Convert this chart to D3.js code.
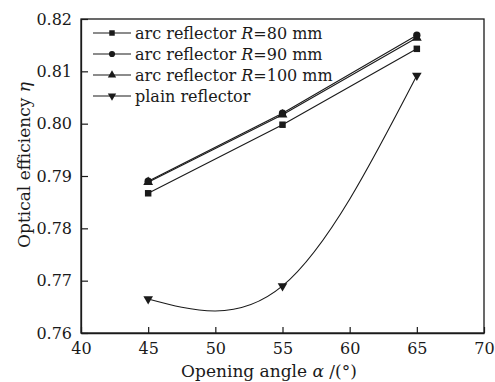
<!DOCTYPE html>
<html><head><meta charset="utf-8">
<script src="https://cdn.jsdelivr.net/npm/d3@7"></script>
<style>body{margin:0;background:#fff}svg{display:block}text{font-family:"DejaVu Serif",serif;fill:#1a1a1a}</style>
</head><body>
<svg id="c" width="495" height="382"></svg>
<script>
const angles = [45, 55, 65];
const r80 = [0.7867, 0.7998, 0.8143];
const r90 = [0.7890, 0.8020, 0.8169];
const r100 = [0.7888, 0.8017, 0.8164];
const plain = [0.7665, 0.7690, 0.8092];
const xTicks = [40, 45, 50, 55, 60, 65, 70];
const yTicks = [0.76, 0.77, 0.78, 0.79, 0.80, 0.81, 0.82];

const svg = d3.select("#c");
const m = {l: 81, r: 11, t: 19, b: 49};
const W = 495, H = 382;
const x = d3.scaleLinear().domain([40, 70]).range([m.l, W - m.r]);
const y = d3.scaleLinear().domain([0.76, 0.82]).range([H - m.b, m.t]);
const col = "#1a1a1a";

// frame
svg.append("rect").attr("x", x(40)).attr("y", y(0.82)).attr("width", x(70) - x(40)).attr("height", y(0.76) - y(0.82))
  .attr("fill", "none").attr("stroke", col).attr("stroke-width", 1.3);

const xa = svg.append("g").attr("transform", `translate(0,${y(0.76)})`)
  .call(d3.axisBottom(x).tickValues(xTicks).tickSizeInner(-6).tickSizeOuter(0).tickPadding(10).tickFormat(d3.format("d")));
const ya = svg.append("g").attr("transform", `translate(${x(40)},0)`)
  .call(d3.axisLeft(y).tickValues(yTicks).tickSizeInner(-7).tickSizeOuter(0).tickPadding(9).tickFormat(d3.format(".2f")));
[xa, ya].forEach(a => {
  a.select(".domain").attr("stroke", col).attr("stroke-width", 1.3);
  a.selectAll(".tick line").attr("stroke", col).attr("stroke-width", 1.2);
  a.selectAll(".tick text").attr("font-size", 16).attr("font-family", "DejaVu Serif").attr("fill", col);
});

function tdown(s) { return d3.symbol().type(d3.symbolTriangle).size(s)(); }

const series = [
  {vals: r80, shape: "sq", curve: d3.curveLinear},
  {vals: r90, shape: "ci", curve: d3.curveLinear},
  {vals: r100, shape: "tu", curve: d3.curveLinear},
  {vals: plain, shape: "td", curve: d3.curveNatural},
];
function marker(g, shape, cx, cy, s) {
  if (shape === "td") {
    g.append("path").attr("d", tdown(s || 40)).attr("transform", `translate(${cx},${cy}) rotate(180)`).attr("fill", col);
  } else {
    g.append("path").attr("d", d3.symbol().type(shape === "sq" ? d3.symbolSquare : shape === "ci" ? d3.symbolCircle : d3.symbolTriangle).size(s || 42)())
      .attr("transform", `translate(${cx},${cy})`).attr("fill", col);
  }
}
series.forEach(s => {
  const line = d3.line().x((d, i) => x(angles[i])).y(d => y(d)).curve(s.curve);
  svg.append("path").attr("d", line(s.vals)).attr("fill", "none").attr("stroke", col).attr("stroke-width", 1.1);
  const g = svg.append("g");
  s.vals.forEach((v, i) => marker(g, s.shape, x(angles[i]), y(v)));
});

// legend
const lg = svg.append("g");
const rows = [33, 54, 75, 96];
const labels = [
  ["arc reflector ", "R", "=80 mm"],
  ["arc reflector ", "R", "=90 mm"],
  ["arc reflector ", "R", "=100 mm"],
  ["plain reflector", "", ""],
];
series.forEach((s, i) => {
  lg.append("line").attr("x1", 93).attr("x2", 131).attr("y1", rows[i]).attr("y2", rows[i]).attr("stroke", col).attr("stroke-width", 1.1);
  marker(lg, s.shape, 112, rows[i], 30);
  const t = lg.append("text").attr("x", 135).attr("y", rows[i] + 5.5).attr("font-size", 16);
  t.append("tspan").text(labels[i][0]);
  if (labels[i][1]) t.append("tspan").attr("font-style", "italic").text(labels[i][1]);
  if (labels[i][2]) t.append("tspan").text(labels[i][2]);
});

// axis titles
const xt = svg.append("text").attr("x", 269).attr("y", 377).attr("text-anchor", "middle").attr("font-size", 17);
xt.append("tspan").text("Opening angle ");
xt.append("tspan").attr("font-style", "italic").text("α");
xt.append("tspan").text(" /(°)");
const yt = svg.append("text").attr("transform", `translate(30,165) rotate(-90)`).attr("text-anchor", "middle").attr("font-size", 17);
yt.append("tspan").text("Optical efficiency ");
yt.append("tspan").attr("font-style", "italic").text("η");
</script>
</body></html>
